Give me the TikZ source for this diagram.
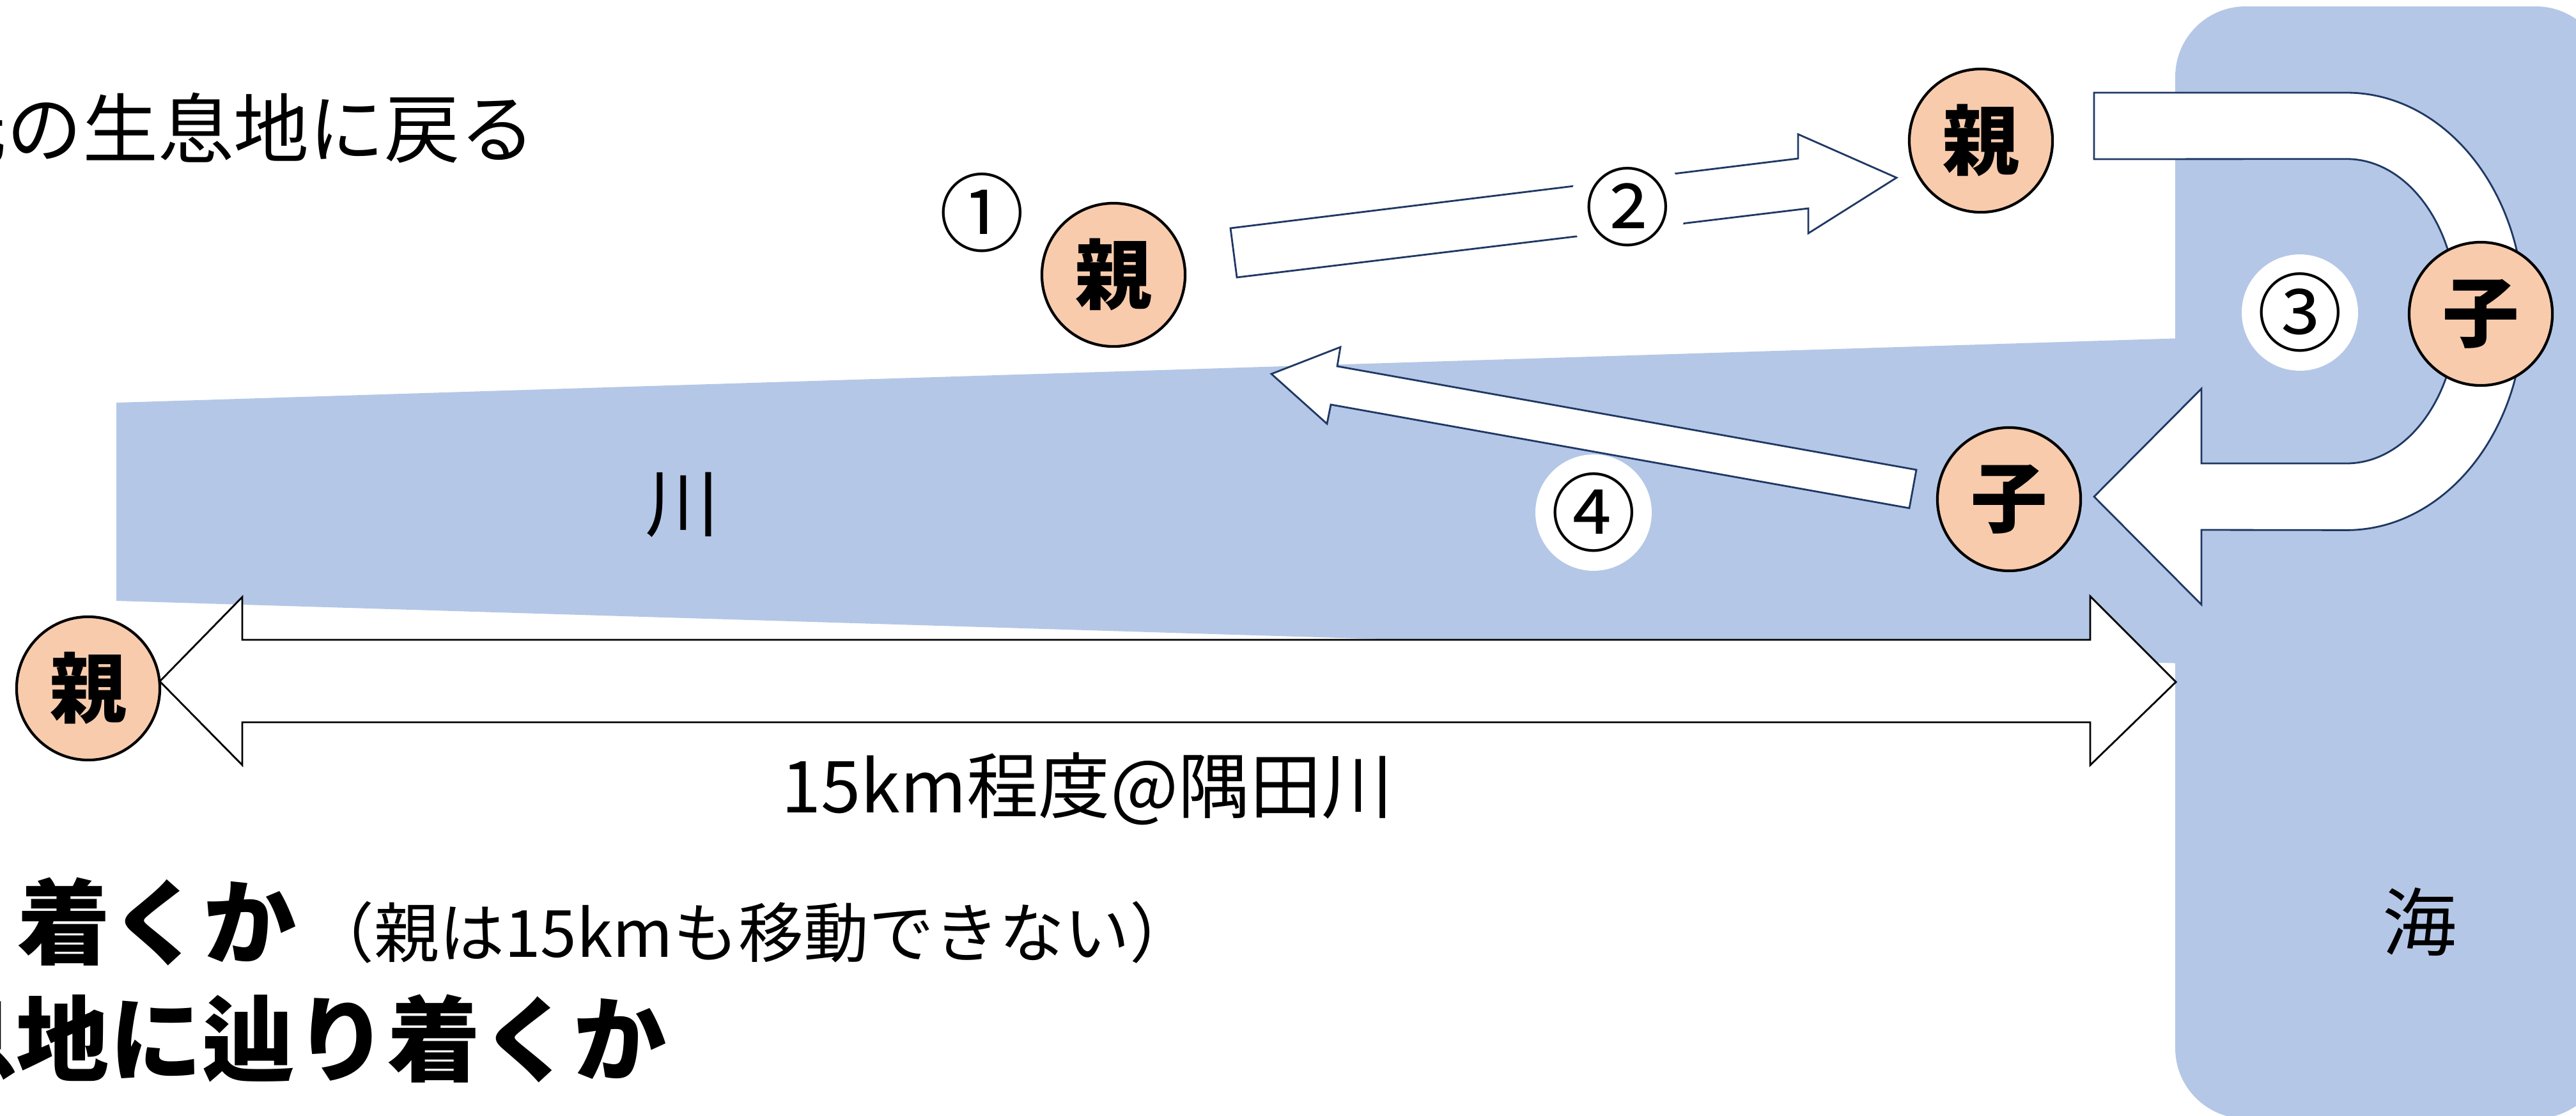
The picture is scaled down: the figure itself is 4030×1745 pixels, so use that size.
\documentclass[tikz,border=0pt]{standalone}
\usepackage{fontspec}
\setmainfont{Noto Sans CJK JP}
\definecolor{water}{HTML}{B4C7E7}
\definecolor{peach}{HTML}{F8CBAD}
\definecolor{navy}{HTML}{1F3864}
\begin{document}
\begin{tikzpicture}[x=0.01cm,y=-0.01cm,
  fish/.style={circle, draw=black, line width=1.2pt, fill=peach, minimum size=2.24cm, inner sep=0pt, font=\fontsize{34}{34}\selectfont\bfseries},
  numlabel/.style={circle, fill=white, minimum size=1.74cm, inner sep=0pt, font=\fontsize{38}{38}\selectfont},
  blockarrow/.style={draw=navy, fill=white, line width=0.8pt, line join=miter},
  plain/.style={inner sep=0pt, anchor=base west}]
\useasboundingbox (0,0) rectangle (4030,1745);
\clip (0,0) rectangle (4030,1745);
% sea and river
\fill[water, rounded corners=1.1cm] (3403,10) rectangle (4077,1750);
\fill[water] (182,630) -- (3450,528) -- (3450,1039) -- (182,940) -- cycle;
% texts
\node[plain, font=\fontsize{33.6}{40}\selectfont] (t1) at (-108,245) {元の生息地に戻る};
\node[plain] (t2) at (27,1497) {{\fontsize{41.3}{48}\selectfont\bfseries 着くか}\hspace{0.2cm}{\fontsize{29}{34}\selectfont （親は15kmも移動できない）}};
\node[plain, font=\fontsize{41.3}{48}\selectfont\bfseries] (t3) at (-120,1680) {息地に辿り着くか};
\node[anchor=base, inner sep=0pt, font=\fontsize{31.9}{38}\selectfont] (dist) at (1701,1271) {15km程度@隅田川};
\node[anchor=base, inner sep=0pt, font=\fontsize{33}{40}\selectfont] (riv) at (1068,830) {川};
\node[anchor=base, inner sep=0pt, font=\fontsize{33}{40}\selectfont] (sea) at (3785,1486) {海};
% block arrows
\draw[fill=white, draw=black, line width=0.8pt, line join=miter] (250,1066) -- (379,934) -- (379,1001) -- (3270,1001) -- (3270,933) -- (3404,1067) -- (3270,1197) -- (3270,1130) -- (379,1130) -- (379,1197) -- cycle;
\draw[blockarrow] (1925,357) -- (2813,248) -- (2813,210) -- (2967,278) -- (2829,365) -- (2829,326) -- (1935,434) -- cycle;
\draw[blockarrow] (2998,735) -- (2092,573) -- (2097,543) -- (1989,585) -- (2076,663) -- (2082,633) -- (2987,795) -- cycle;
\draw[blockarrow] (3276,145) -- (3671,145) arc[start angle=90,end angle=-90,x radius=2.77cm,y radius=3.42cm] -- (3444,829) -- (3444,946) -- (3276,777) -- (3444,608) -- (3444,725) -- (3671,725) arc[start angle=-90,end angle=90,x radius=1.73cm,y radius=2.38cm] -- (3276,249) -- cycle;
% fish nodes
\node[fish] (p1) at (1742,430) {親};
\node[fish] (p2) at (3099,220) {親};
\node[fish] (c1) at (3881,491) {子};
\node[fish] (c2) at (3143,781) {子};
\node[fish] (p0) at (138,1077) {親};
% step labels
\node[numlabel] (n1) at (1536,333) {①};
\node[numlabel] (n2) at (2546,324) {②};
\node[numlabel] (n3) at (3598,489) {③};
\node[numlabel] (n4) at (2493,802) {④};
\end{tikzpicture}
\end{document}
